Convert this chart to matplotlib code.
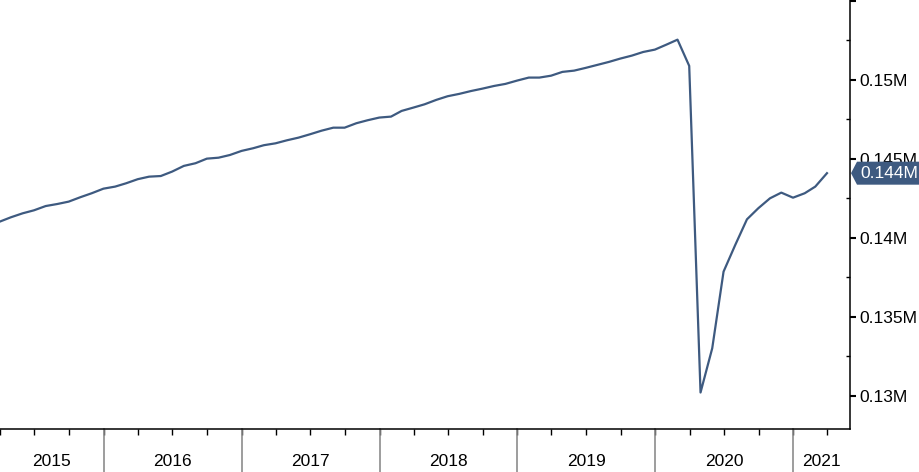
import numpy as np
import pandas as pd
import matplotlib
matplotlib.use("Agg")
import matplotlib.pyplot as plt
import matplotlib.dates as mdates
from matplotlib.patches import Polygon
from matplotlib.transforms import blended_transform_factory, IdentityTransform
from matplotlib.ticker import FixedLocator, FuncFormatter

plt.rcParams['font.family'] = ['Liberation Sans', 'DejaVu Sans']

# monthly payrolls (thousands), Mar 2015 .. Mar 2021
months = pd.date_range("2015-03-31", "2021-03-31", freq="ME")
payrolls = [
    141010, 141290, 141540, 141730, 142000, 142130, 142280, 142560, 142810, 143100,
    143230, 143440, 143700, 143860, 143900, 144180, 144540, 144710, 145000, 145060,
    145230, 145490, 145660, 145850, 145970, 146160, 146330, 146540, 146770, 146960,
    146960, 147240, 147430, 147600, 147660, 148020, 148230, 148440, 148720, 148950,
    149100, 149280, 149430, 149600, 149730, 149940, 150130, 150130, 150250, 150490,
    150570, 150740, 150930, 151120, 151330, 151520, 151750, 151900, 152220, 152530,
    150870, 130200, 133000, 137850, 139540, 141160, 141860, 142490, 142850, 142530,
    142810, 143230, 144080,
]
years = [2015, 2016, 2017, 2018, 2019, 2020, 2021]
y_major = [130000, 135000, 140000, 145000, 150000, 155000]

line_color = '#3e5a80'

fig = plt.figure(figsize=(9.2, 4.72), dpi=100)
ax = fig.add_axes([0, 1 - 429 / 472, 850 / 920, 429 / 472])

ax.plot(months, payrolls, color=line_color, lw=1.6, solid_joinstyle='round')

x0 = pd.Timestamp("2015-04-01")
x1 = pd.Timestamp("2021-05-31")
ax.set_xlim(x0, x1)
ax.set_ylim(127890, 155040)

for s in ['top', 'left']:
    ax.spines[s].set_visible(False)
ax.spines['right'].set_linewidth(1.1)
ax.spines['bottom'].set_linewidth(1.1)

# y axis on the right
ax.yaxis.tick_right()
ax.yaxis.set_major_locator(FixedLocator(y_major))
ax.yaxis.set_minor_locator(FixedLocator([v + 2500 for v in y_major[:-1]]))
ax.yaxis.set_major_formatter(FuncFormatter(
    lambda v, p: '' if v >= 155000 else f"{v / 1e6:g}M"))
ax.tick_params(axis='y', which='major', direction='out', length=4, width=1.5,
               pad=3, labelsize=12.5, colors='black')
ax.tick_params(axis='y', which='minor', direction='in', length=3, width=1)

# quarter ticks, no labels
quarters = pd.date_range("2015-04-01", "2021-04-01", freq="QS")
ax.set_xticks(quarters)
ax.xaxis.set_major_formatter(FuncFormatter(lambda v, p: ''))
ax.tick_params(axis='x', which='major', direction='out', length=4, width=1)

# year separators and labels
trans = blended_transform_factory(ax.transData, ax.transAxes)
bounds = [x0] + [pd.Timestamp(f"{y}-01-01") for y in years[1:]] + [x1]
for b in bounds[1:-1]:
    xb = mdates.date2num(b)
    ax.plot([xb, xb], [0, -0.105], transform=trans, color='#8c8c8c',
            lw=1.2, clip_on=False)
for i, y in enumerate(years):
    xm = mdates.date2num(bounds[i]) + (mdates.date2num(bounds[i + 1]) - mdates.date2num(bounds[i])) / 2
    ax.text(xm, -0.075, str(y), transform=trans, ha='center', va='center',
            fontsize=12.5, color='black')

# last value tag
last = payrolls[-1]
fig.canvas.draw()
xs, yc = ax.transData.transform((mdates.date2num(x1), last))
tag = Polygon([(xs + 1, yc), (xs + 7, yc + 11.5), (930, yc + 11.5),
               (930, yc - 11.5), (xs + 7, yc - 11.5)],
              closed=True, transform=IdentityTransform(), facecolor=line_color,
              edgecolor='none', clip_on=False)
fig.add_artist(tag)
fig.text((xs + 10) / 920, yc / 472, f"{last / 1e6:.3f}M", color='white',
         fontsize=12.5, ha='left', va='center')

fig.savefig("out.png", dpi=100)
